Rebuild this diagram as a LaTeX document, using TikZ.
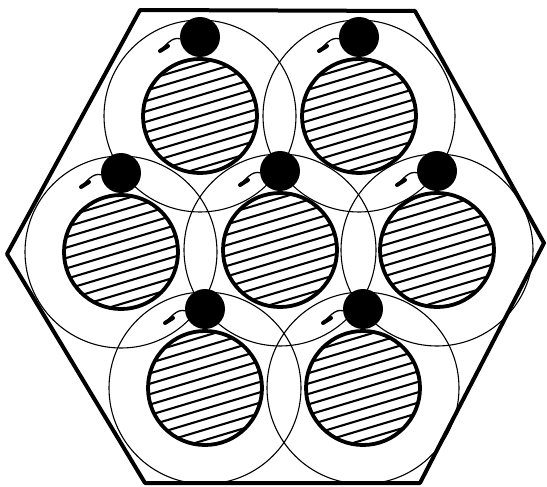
\documentclass[tikz,border=0pt]{standalone}
\usepackage{tikz}
\usetikzlibrary{calc}

\begin{document}
\begin{tikzpicture}[x=1pt,y=-1pt,
        wall/.style={line width=4pt, line join=round},
        orbit/.style={line width=1.1pt},
        core/.style={line width=3.8pt},
        hatch/.style={line width=2.1pt},
        head/.style={circle, fill=black, minimum size=40pt, inner sep=0pt},
        stem/.style={line width=1.3pt},
        blob/.style={line width=4pt, line cap=round}]
    \useasboundingbox (0,0) rectangle (547,487);

    % hexagonal frame
    \draw[wall] (140,10) -- (415,11) -- (544,243) -- (420,483) -- (145,483) -- (7,254) -- cycle;

    % seven cells
    \foreach \n/\x/\y in {tl/200/116, tr/359/116, ml/121/252, mc/280/250, mr/437/250, bl/205/388, br/363/388} {
        \draw[orbit] (\x,\y) circle (96pt);
        \begin{scope}
            \clip (\x,\y) circle (57pt);
            \fill[white] (\x,\y) circle (57pt);
            \foreach \k in {-7,...,7}
                \draw[hatch] (\x-70,\y+10.4*\k+21) -- (\x+70,\y+10.4*\k-21);
        \end{scope}
        \draw[core] (\x,\y) circle (57pt);
        \node[head] (h\n) at (\x,\y-79) {};
        \draw[stem] (h\n.185) .. controls +(-8,-2) and +(6,-6) .. ($(h\n)+(-40,14)$);
        \draw[blob] ($(h\n)+(-32,9)$) -- ($(h\n)+(-40,14)$);
    }
\end{tikzpicture}
\end{document}
